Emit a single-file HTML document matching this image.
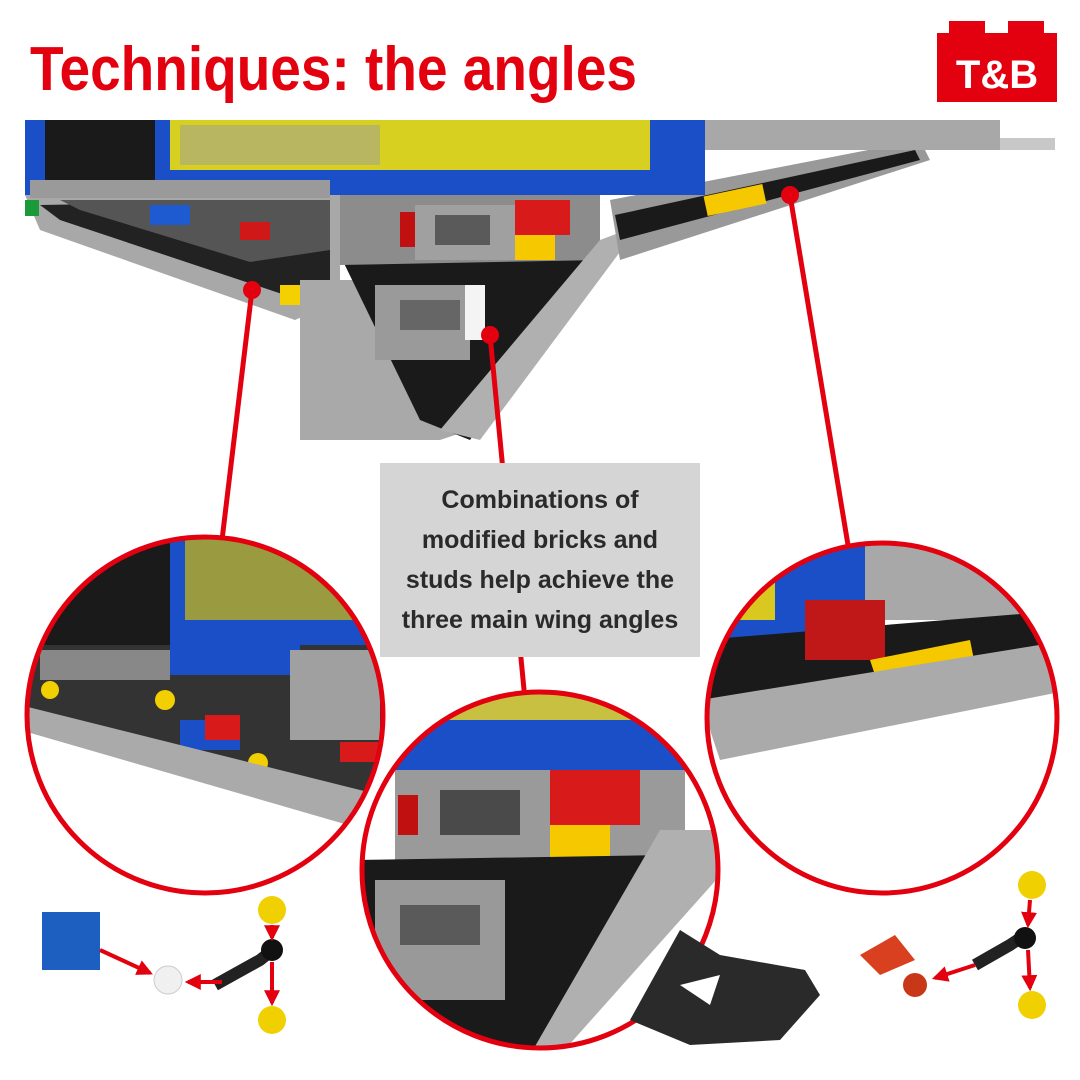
<!DOCTYPE html>
<html><head><meta charset="utf-8"><style>
html,body{margin:0;padding:0;background:#fff;}
svg{display:block}
</style></head><body>
<svg width="1080" height="1080" viewBox="0 0 1080 1080" xmlns="http://www.w3.org/2000/svg">
<defs>
<clipPath id="cL"><circle cx="205" cy="715" r="178"/></clipPath>
<clipPath id="cM"><circle cx="540" cy="870" r="178"/></clipPath>
<clipPath id="cR"><circle cx="882" cy="718" r="175"/></clipPath>
<marker id="ah" viewBox="0 0 10 10" refX="8" refY="5" markerWidth="4" markerHeight="4" orient="auto"><path d="M0,0 L10,5 L0,10 z" fill="#e3000f"/></marker>
</defs>
<rect width="1080" height="1080" fill="#fff"/>
<text x="30" y="90" font-family="Liberation Sans, sans-serif" font-weight="bold" font-size="62" fill="#e3000f" textLength="607" lengthAdjust="spacingAndGlyphs">Techniques: the angles</text>
<!-- logo -->
<rect x="949" y="21" width="36" height="14" fill="#e3000f"/>
<rect x="1008" y="21" width="36" height="14" fill="#e3000f"/>
<rect x="937" y="33" width="120" height="69" fill="#e3000f"/>
<text x="997" y="88" text-anchor="middle" font-family="Liberation Sans, sans-serif" font-weight="bold" font-size="40" fill="#fff">T&amp;B</text>

<!-- main model -->
<polygon points="25,195 340,190 340,300 295,320 40,230" fill="#a8a8a8"/>
<polygon points="40,205 330,200 330,290 300,300 60,220" fill="#222"/>
<polygon points="60,200 330,200 330,250 250,262 80,210" fill="#555"/>
<rect x="150" y="205" width="40" height="20" fill="#1e5bd0"/><rect x="240" y="222" width="30" height="18" fill="#d01818"/>
<rect x="280" y="285" width="50" height="20" fill="#f5d000"/>
<polygon points="300,280 460,280 470,430 440,440 300,440" fill="#a9a9a9"/>
<polygon points="340,255 605,240 470,440 420,420" fill="#1a1a1a"/>
<polygon points="375,285 470,285 470,360 375,360" fill="#9a9a9a"/>
<polygon points="400,300 460,300 460,330 400,330" fill="#666"/>
<rect x="465" y="285" width="20" height="55" fill="#f4f4f4"/>
<polygon points="340,190 600,190 600,260 340,265" fill="#8c8c8c"/>
<rect x="415" y="205" width="100" height="55" fill="#a0a0a0"/>
<rect x="435" y="215" width="55" height="30" fill="#5a5a5a"/>
<rect x="515" y="200" width="55" height="35" fill="#d81a1a"/><rect x="515" y="235" width="40" height="25" fill="#f6c800"/>
<rect x="400" y="212" width="15" height="35" fill="#c01010"/>
<polygon points="600,240 640,225 480,440 440,430" fill="#b0b0b0"/>
<polygon points="610,200 920,140 930,160 620,260" fill="#999"/>
<polygon points="615,215 915,150 920,160 620,240" fill="#1a1a1a"/>
<rect x="705" y="190" width="60" height="20" fill="#f6c800" transform="rotate(-12 735 200)"/>
<rect x="700" y="120" width="300" height="30" fill="#a8a8a8"/>
<rect x="1000" y="138" width="55" height="12" fill="#c8c8c8"/>
<rect x="25" y="120" width="680" height="75" fill="#1b4fc8"/>
<rect x="45" y="120" width="110" height="60" fill="#1a1a1a"/>
<rect x="170" y="120" width="480" height="50" fill="#d8d020"/>
<rect x="180" y="125" width="200" height="40" fill="#b8b660"/>
<rect x="30" y="180" width="300" height="18" fill="#9a9a9a"/>
<rect x="25" y="200" width="14" height="16" fill="#1a9a3a"/>

<!-- red lines -->
<g stroke="#e3000f" stroke-width="5" fill="none">
<line x1="252" y1="290" x2="222" y2="540"/>
<line x1="490" y1="335" x2="525" y2="700"/>
<line x1="790" y1="195" x2="848" y2="545"/>
</g>
<g fill="#e3000f"><circle cx="252" cy="290" r="9"/><circle cx="490" cy="335" r="9"/><circle cx="790" cy="195" r="9"/></g>

<!-- left circle -->
<g clip-path="url(#cL)">
<rect x="20" y="530" width="380" height="370" fill="#fff"/>
<rect x="20" y="530" width="380" height="120" fill="#1a1a1a"/>
<rect x="170" y="530" width="230" height="115" fill="#1b4fc8"/>
<rect x="185" y="530" width="200" height="90" fill="#9a9a40"/>
<polygon points="20,645 400,645 400,815 20,720" fill="#333"/>
<rect x="40" y="650" width="130" height="30" fill="#888"/>
<rect x="170" y="645" width="130" height="30" fill="#1b4fc8"/>
<rect x="290" y="650" width="90" height="90" fill="#a0a0a0"/>
<rect x="180" y="720" width="60" height="30" fill="#1b4fc8"/>
<circle cx="50" cy="690" r="9" fill="#f2cf00"/><circle cx="165" cy="700" r="10" fill="#f2cf00"/><circle cx="258" cy="763" r="10" fill="#f2cf00"/>
<rect x="205" y="715" width="35" height="25" fill="#d81a1a"/><rect x="340" y="742" width="50" height="20" fill="#d81a1a"/>
<polygon points="20,705 400,800 400,840 20,730" fill="#aaa"/>
</g>
<circle cx="205" cy="715" r="178" fill="none" stroke="#e3000f" stroke-width="5"/>

<!-- right circle -->
<g clip-path="url(#cR)">
<rect x="700" y="540" width="370" height="360" fill="#fff"/>
<rect x="700" y="540" width="370" height="80" fill="#a8a8a8"/>
<rect x="700" y="540" width="165" height="100" fill="#1b4fc8"/>
<rect x="720" y="560" width="55" height="60" fill="#d8c820"/>
<polygon points="700,640 1070,610 1070,660 700,720" fill="#1a1a1a"/>
<rect x="805" y="600" width="80" height="60" fill="#c01818"/>
<polygon points="870,660 970,640 975,665 880,690" fill="#f6c800"/>
<polygon points="700,700 1070,640 1070,690 720,760" fill="#aaa"/>
</g>
<circle cx="882" cy="718" r="175" fill="none" stroke="#e3000f" stroke-width="5"/>

<!-- middle circle -->
<g clip-path="url(#cM)">
<rect x="355" y="690" width="370" height="365" fill="#fff"/>
<rect x="355" y="690" width="370" height="80" fill="#1b4fc8"/>
<rect x="420" y="690" width="250" height="30" fill="#c8c040"/>
<rect x="395" y="770" width="290" height="90" fill="#9a9a9a"/>
<rect x="440" y="790" width="80" height="45" fill="#4a4a4a"/>
<rect x="550" y="770" width="90" height="55" fill="#d81a1a"/><rect x="550" y="825" width="60" height="35" fill="#f6c800"/>
<rect x="398" y="795" width="20" height="40" fill="#c01010"/>
<polygon points="355,860 670,855 540,1055 355,1055" fill="#1a1a1a"/>
<rect x="375" y="880" width="130" height="120" fill="#999"/>
<rect x="400" y="905" width="80" height="40" fill="#5a5a5a"/>
<polygon points="660,830 725,830 725,870 560,1055 530,1055" fill="#b0b0b0"/>
</g>
<circle cx="540" cy="870" r="178" fill="none" stroke="#e3000f" stroke-width="5"/>

<!-- text box -->
<rect x="380" y="463" width="320" height="194" fill="#d5d5d5"/>
<g font-family="Liberation Sans, sans-serif" font-weight="bold" font-size="25" fill="#2a2a2a" text-anchor="middle">
<text x="540" y="508">Combinations of</text>
<text x="540" y="548">modified bricks and</text>
<text x="540" y="588">studs help achieve the</text>
<text x="540" y="628">three main wing angles</text>
</g>

<!-- small parts -->
<polygon points="630,1020 680,930 720,955 805,970 820,995 780,1040 690,1045" fill="#2a2a2a"/>
<polygon points="680,985 720,975 710,1005" fill="#fff"/>
<rect x="42" y="912" width="58" height="58" fill="#1d5fc0"/>
<circle cx="168" cy="980" r="14" fill="#f0f0f0" stroke="#ccc"/>
<path d="M215 985 L260 960 L275 948" stroke="#222" stroke-width="12" fill="none"/>
<circle cx="272" cy="950" r="11" fill="#111"/>
<circle cx="272" cy="910" r="14" fill="#f0d000"/><circle cx="272" cy="1020" r="14" fill="#f0d000"/>
<polygon points="860,955 895,935 915,960 880,975" fill="#d84020"/>
<circle cx="915" cy="985" r="12" fill="#c83818"/>
<path d="M975 965 L1010 945 L1025 935" stroke="#222" stroke-width="12" fill="none"/>
<circle cx="1025" cy="938" r="11" fill="#111"/>
<circle cx="1032" cy="885" r="14" fill="#f0d000"/><circle cx="1032" cy="1005" r="14" fill="#f0d000"/>
<g stroke="#e3000f" stroke-width="4" fill="none" marker-end="url(#ah)">
<line x1="100" y1="950" x2="150" y2="973"/><line x1="222" y1="982" x2="188" y2="982"/>
<line x1="272" y1="925" x2="272" y2="938"/><line x1="272" y1="962" x2="272" y2="1003"/>
<line x1="975" y1="965" x2="935" y2="978"/>
<line x1="1030" y1="900" x2="1028" y2="925"/><line x1="1028" y1="950" x2="1030" y2="988"/>
</g>
</svg>
</body></html>
